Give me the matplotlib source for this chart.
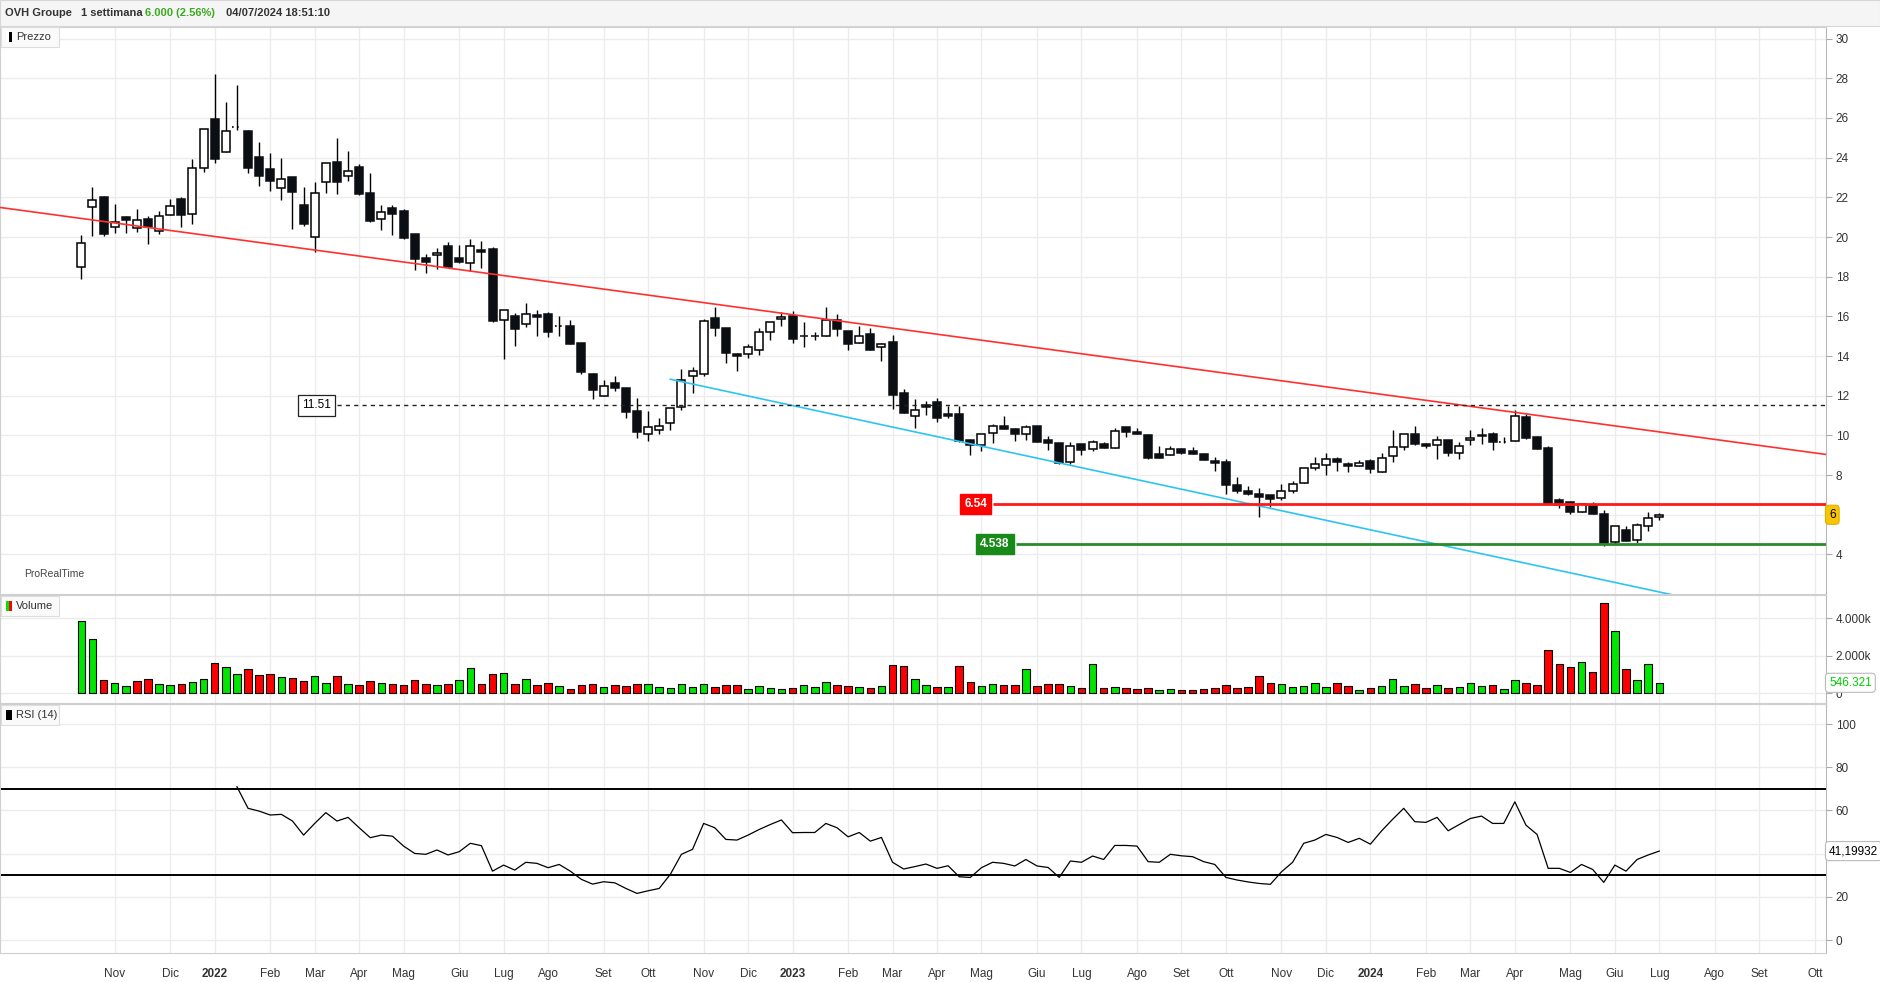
import numpy as np
import pandas as pd
import matplotlib
matplotlib.use('Agg')
import matplotlib.pyplot as plt
from matplotlib.patches import Rectangle
from matplotlib import transforms

plt.rcParams['font.family'] = ['Liberation Sans', 'DejaVu Sans']

# --- dati settimanali OVH Groupe (prima settimana: 11/10/2021) ---
start_week = pd.Timestamp('2021-10-11')

opens = [18.47, 21.51, 22.02, 20.49, 21.01, 20.44, 20.89, 20.32, 21.09, 21.90,
         21.14, 23.46, 25.93, 24.27, 25.53, 25.34, 24.02, 23.43, 22.45, 23.02,
         21.61, 19.98, 22.76, 23.76, 23.06, 23.51, 22.20, 20.89, 21.44, 21.30,
         20.13, 18.92, 19.08, 19.55, 18.92, 18.71, 19.35, 19.38, 15.80, 16.00,
         15.63, 16.05, 16.10, 15.50, 15.50, 14.64, 13.08, 11.97, 12.62, 12.37,
         11.21, 10.05, 10.26, 10.61, 11.42, 12.98, 13.11, 15.90, 15.40, 14.09,
         14.09, 14.29, 15.20, 15.85, 16.04, 15.00, 15.01, 14.99, 15.82, 15.25,
         14.64, 15.11, 14.44, 14.69, 12.12, 11.00, 11.53, 11.67, 11.08, 11.06,
         9.75, 9.50, 10.10, 10.47, 10.32, 10.05, 10.47, 9.77, 9.61, 8.64,
         9.57, 9.31, 9.55, 9.35, 10.41, 10.17, 10.02, 9.05, 9.00, 9.30,
         9.21, 9.05, 8.69, 8.66, 7.48, 7.19, 7.03, 6.98, 6.83, 7.18,
         7.58, 8.34, 8.51, 8.79, 8.54, 8.44, 8.69, 8.14, 8.94, 9.40,
         10.05, 9.55, 9.50, 9.75, 9.10, 9.75, 10.00, 10.05, 9.66, 9.70,
         10.91, 9.90, 9.35, 6.73, 6.63, 6.12, 6.48, 6.02, 4.64, 5.25,
         4.74, 5.45, 5.87]
highs = [20.10, 22.52, 22.07, 21.66, 21.06, 21.41, 21.06, 21.31, 21.90, 22.02,
         23.93, 25.43, 28.22, 26.80, 27.66, 25.39, 24.79, 24.23, 23.98, 23.02,
         22.52, 22.77, 23.71, 24.99, 24.33, 23.68, 23.21, 21.61, 21.61, 21.40,
         20.13, 19.14, 19.43, 19.75, 19.60, 19.90, 19.80, 19.48, 16.30, 16.15,
         16.67, 16.32, 16.20, 16.02, 15.82, 14.64, 13.16, 12.78, 12.99, 12.37,
         11.87, 11.21, 10.86, 11.36, 13.33, 13.45, 15.85, 16.49, 15.40, 14.14,
         14.59, 15.41, 15.73, 16.20, 16.27, 15.70, 15.20, 16.49, 16.12, 15.25,
         15.51, 15.41, 14.67, 15.06, 12.32, 11.84, 11.73, 11.87, 11.47, 11.47,
         9.75, 10.05, 10.58, 10.98, 10.36, 10.54, 10.47, 9.97, 9.61, 9.65,
         9.57, 9.77, 9.68, 10.36, 10.41, 10.36, 10.07, 9.45, 9.45, 9.35,
         9.40, 9.10, 8.93, 8.79, 7.90, 7.45, 7.33, 6.98, 7.53, 7.70,
         8.34, 8.93, 9.13, 8.93, 8.68, 8.76, 8.81, 9.10, 10.27, 10.05,
         10.47, 9.60, 9.95, 9.75, 9.65, 10.26, 10.36, 10.19, 9.90, 11.28,
         11.06, 9.95, 9.45, 6.83, 6.63, 6.53, 6.63, 6.22, 5.45, 5.45,
         5.60, 6.12, 6.11]
lows = [17.87, 20.07, 20.07, 20.22, 20.22, 20.27, 19.63, 20.17, 21.09, 20.52,
        20.67, 23.29, 23.75, 24.27, 25.38, 23.24, 22.59, 22.33, 21.88, 20.42,
        20.57, 19.26, 22.23, 22.18, 22.84, 22.13, 20.77, 20.37, 20.12, 19.90,
        18.34, 18.20, 18.40, 18.50, 18.71, 18.29, 18.45, 15.73, 13.87, 14.52,
        15.46, 15.03, 14.98, 15.03, 14.62, 13.08, 11.85, 11.97, 12.25, 10.89,
        9.89, 9.74, 10.05, 10.29, 11.30, 12.15, 13.01, 15.03, 13.67, 13.26,
        13.92, 14.04, 14.81, 15.53, 14.64, 14.47, 14.81, 14.99, 15.03, 14.31,
        14.64, 14.32, 13.77, 11.33, 11.15, 10.39, 11.05, 10.69, 10.89, 9.68,
        9.00, 9.23, 9.63, 10.31, 9.73, 9.77, 9.68, 9.28, 8.56, 8.56,
        9.03, 9.23, 9.38, 9.35, 9.90, 10.09, 8.82, 8.88, 9.00, 9.08,
        9.05, 8.74, 8.22, 7.05, 7.08, 6.99, 5.87, 6.41, 6.74, 7.08,
        7.58, 8.26, 8.02, 8.19, 8.14, 8.44, 8.09, 8.14, 8.64, 9.25,
        9.50, 9.35, 8.83, 8.94, 8.79, 9.50, 9.55, 9.25, 9.60, 9.70,
        9.80, 9.30, 6.53, 6.36, 6.02, 6.12, 6.02, 4.44, 4.54, 4.69,
        4.59, 5.20, 5.72]
closes = [19.68, 21.85, 20.13, 20.77, 20.88, 20.86, 20.49, 21.04, 21.55, 21.13,
          23.46, 25.43, 23.95, 25.33, 25.53, 23.49, 23.09, 22.84, 22.91, 22.25,
          20.67, 22.20, 23.71, 22.79, 23.31, 22.18, 20.82, 21.24, 21.14, 19.96,
          18.91, 18.76, 19.19, 18.50, 18.76, 19.53, 19.26, 15.78, 16.30, 15.38,
          16.14, 15.99, 15.23, 15.50, 14.62, 13.21, 12.31, 12.47, 12.37, 11.20,
          10.19, 10.41, 10.47, 11.36, 12.78, 13.23, 15.75, 15.40, 14.14, 14.02,
          14.47, 15.20, 15.73, 15.95, 14.88, 14.99, 15.00, 15.82, 15.35, 14.59,
          15.03, 14.32, 14.59, 12.05, 11.15, 11.26, 11.45, 10.86, 11.00, 9.74,
          9.50, 10.05, 10.46, 10.31, 10.05, 10.44, 9.68, 9.60, 8.61, 9.45,
          9.28, 9.65, 9.38, 10.20, 10.18, 10.09, 8.85, 8.88, 9.30, 9.13,
          9.05, 8.74, 8.63, 7.50, 7.18, 7.03, 6.91, 6.79, 7.18, 7.53,
          8.34, 8.54, 8.79, 8.64, 8.44, 8.59, 8.29, 8.84, 9.40, 10.05,
          9.55, 9.45, 9.75, 9.10, 9.45, 9.85, 9.95, 9.65, 9.66, 10.96,
          9.85, 9.30, 6.53, 6.50, 6.12, 6.53, 6.02, 4.54, 5.45, 4.69,
          5.50, 5.85, 6.00]
# volumi in migliaia
volumes = [3878, 2913, 715, 536, 375, 661, 768, 482, 429, 482,
           590, 768, 1626, 1412, 1036, 1304, 983, 1036, 876, 822,
           661, 929, 554, 929, 500, 447, 661, 536, 482, 429,
           715, 482, 429, 482, 715, 1358, 482, 1019, 1090, 482,
           768, 429, 536, 375, 214, 447, 482, 322, 447, 375,
           482, 482, 322, 268, 482, 322, 482, 322, 447, 447,
           214, 375, 268, 214, 268, 429, 322, 608, 429, 375,
           322, 268, 375, 1501, 1447, 751, 429, 322, 322, 1447,
           590, 375, 482, 429, 429, 1287, 375, 482, 482, 375,
           268, 1555, 268, 322, 268, 214, 268, 161, 214, 161,
           161, 214, 268, 429, 268, 322, 911, 536, 482, 322,
           375, 536, 322, 536, 375, 161, 268, 375, 751, 375,
           482, 268, 429, 268, 322, 536, 375, 429, 214, 697,
           536, 429, 2305, 1555, 1394, 1680, 1126, 4825, 3324, 1287,
           697, 1555, 546.321]
rsi_first = 14
rsi_values = [71.0, 61.0, 59.7, 57.9, 58.2, 55.1, 48.6, 54.0, 59.0, 55.1,
              56.8, 52.0, 47.4, 48.6, 48.1, 43.5, 40.1, 39.7, 41.7, 39.4,
              40.9, 44.8, 43.7, 31.9, 34.7, 32.4, 36.0, 35.5, 33.5, 35.0,
              31.9, 28.1, 25.9, 27.0, 26.5, 23.9, 21.6, 22.8, 23.9, 30.4,
              39.7, 42.0, 54.0, 52.0, 46.6, 46.3, 48.6, 51.2, 53.5, 55.6,
              49.7, 49.8, 49.8, 54.0, 52.0, 47.8, 49.8, 45.8, 47.5, 36.0,
              32.9, 34.0, 35.2, 33.2, 34.4, 29.3, 29.0, 33.5, 36.0, 35.5,
              34.3, 37.3, 34.3, 33.6, 29.0, 36.6, 36.0, 38.9, 37.3, 43.8,
              43.8, 43.5, 36.3, 36.0, 39.7, 39.0, 38.6, 36.3, 35.0, 29.0,
              27.8, 26.9, 26.2, 25.8, 31.6, 36.0, 44.8, 46.3, 48.9, 47.5,
              45.2, 47.1, 44.4, 50.5, 55.9, 61.0, 54.8, 54.5, 56.8, 50.6,
              53.5, 56.3, 57.4, 54.0, 54.0, 64.0, 53.2, 48.9, 33.2, 33.2,
              31.3, 35.0, 32.7, 26.7, 34.7, 31.9, 37.3, 39.4, 41.19932]

# linee disegnate (settimana, prezzo)
red_trend = [(-7.32, 21.49), (157.0, 9.04)]
cyan_trend = [(53.0, 12.83), (157.0, 0.30)]
level_dashed = 11.51
level_red = 6.54
level_green = 4.538
level_dashed_from = 23.0
level_red_from = 82.0
level_green_from = 84.1

mesi = ['Gen', 'Feb', 'Mar', 'Apr', 'Mag', 'Giu', 'Lug', 'Ago', 'Set', 'Ott', 'Nov', 'Dic']

W, H = 1880, 982
fig = plt.figure(figsize=(W / 100, H / 100), dpi=100)
fig.patch.set_facecolor('white')


def fy(y):
    return 1 - y / H


x_right = 1826 / W
ax_p = fig.add_axes([0.0, fy(594), x_right, (594 - 27) / H])
ax_v = fig.add_axes([0.0, fy(703), x_right, (703 - 595) / H])
ax_r = fig.add_axes([0.0, fy(953), x_right, (953 - 704) / H])

xlim = (-7.32, 157.0)

# mesi: primo lunedi di ogni mese
month_starts = pd.date_range('2021-11-01', '2024-10-01', freq='MS')
tick_pos, tick_lab = [], []
for d in month_starts:
    monday = d + pd.Timedelta(days=(7 - d.weekday()) % 7)
    tick_pos.append((monday - start_week).days / 7)
    tick_lab.append(str(d.year) if d.month == 1 else mesi[d.month - 1])

for ax in (ax_p, ax_v, ax_r):
    ax.set_xlim(*xlim)
    ax.set_xticks(tick_pos)
    ax.grid(True, color='#ececec', lw=1, zorder=0)
    ax.set_axisbelow(True)
    ax.yaxis.tick_right()
    ax.tick_params(axis='y', labelsize=8.5, colors='#333333', length=4, width=0.8, pad=3)
    ax.tick_params(axis='y', color='#aaaaaa')
    ax.tick_params(axis='x', length=0)
    for s in ax.spines.values():
        s.set_color('#cfcfcf')
    ax.spines['right'].set_color('#b8b8b8')

ax_p.set_xticklabels([])
ax_v.set_xticklabels([])
ax_r.set_xticklabels(tick_lab, fontsize=8.5, color='#333333')
for t in ax_r.get_xticklabels():
    if t.get_text().isdigit():
        t.set_fontweight('bold')
ax_r.tick_params(axis='x', pad=11)

# --- prezzo ---
o = np.array(opens)
h = np.array(highs)
l = np.array(lows)
c = np.array(closes)
x = np.arange(len(o))
up = c > o
down = c < o
doji = c == o

ax_p.vlines(x, l, h, color='black', lw=1.0, zorder=2)
ax_p.bar(x[up], (c - o)[up], bottom=o[up], width=0.72, facecolor='white',
         edgecolor='black', lw=1.1, zorder=3)
ax_p.bar(x[down], (o - c)[down], bottom=c[down], width=0.72, facecolor='#0b0f13',
         edgecolor='#0b0f13', lw=1.1, zorder=3)
ax_p.hlines(c[doji], x[doji] - 0.4, x[doji] + 0.4, color='black', lw=1.2,
            linestyles=(0, (1, 2)), zorder=3)

ax_p.set_ylim(2.006, 30.585)
price_ticks = np.arange(4, 31, 2)
ax_p.set_yticks(price_ticks)
# l'etichetta del 6 e coperta dal riquadro dell'ultimo prezzo
ax_p.set_yticklabels(['' if t == round(closes[-1]) else str(t) for t in price_ticks])

ax_p.axline(red_trend[0], red_trend[1], color='#ff3030', lw=1.2, zorder=4)
ax_p.plot([p[0] for p in cyan_trend], [p[1] for p in cyan_trend], color='#2ec4f2', lw=1.2, zorder=4)
ax_p.hlines(level_dashed, level_dashed_from, xlim[1], color='#222222', lw=1.0,
            linestyles=(0, (3, 3)), zorder=4)
ax_p.hlines(level_red, level_red_from, xlim[1], color='#ff1a1a', lw=2.0, zorder=4)
ax_p.hlines(level_green, level_green_from, xlim[1], color='#2a8a2a', lw=2.0, zorder=4)

ax_p.text(level_dashed_from - 1.8, level_dashed, f'{level_dashed:.2f}', ha='center', va='center',
          fontsize=8.5, color='black', zorder=6,
          bbox=dict(boxstyle='square,pad=0.35', fc='white', ec='#222222', lw=0.9))
ax_p.text(level_red_from - 1.5, level_red, f'{level_red:.2f}', ha='center', va='center',
          fontsize=8.5, color='white', fontweight='bold', zorder=6,
          bbox=dict(boxstyle='square,pad=0.35', fc='#ff0000', ec='#ff0000'))
ax_p.text(level_green_from - 1.9, level_green, f'{level_green:.3f}', ha='center', va='center',
          fontsize=8.5, color='white', fontweight='bold', zorder=6,
          bbox=dict(boxstyle='square,pad=0.35', fc='#178a17', ec='#178a17'))

tr_p = transforms.blended_transform_factory(ax_p.transAxes, ax_p.transData)
ax_p.text(1.0 + 3 / 1826, closes[-1], f'{closes[-1]:g}', transform=tr_p, ha='left', va='center',
          fontsize=8.5, color='black', zorder=10, clip_on=False,
          bbox=dict(boxstyle='round,pad=0.3', fc='#f7c600', ec='#e0b000', lw=0.8))
ax_p.text(24 / 1826, 0.03, 'ProRealTime', transform=ax_p.transAxes, fontsize=7.5, color='#444444')

# --- volume ---
v = np.array(volumes)
prev_c = np.concatenate([[c[0] - 1], c[:-1]])
vcol = np.where(c >= prev_c, '#00e600', '#ff0000')
ax_v.bar(x, v, width=0.68, color=vcol, edgecolor='black', lw=0.8, zorder=3)
ax_v.set_ylim(-536, 5253)
ax_v.set_yticks([0, 2000, 4000])
ax_v.set_yticklabels(['0', '2.000k', '4.000k'])
tr_v = transforms.blended_transform_factory(ax_v.transAxes, ax_v.transData)
ax_v.text(1.0 + 3 / 1826, volumes[-1], f'{volumes[-1]:.3f}', transform=tr_v, ha='left', va='center',
          fontsize=8.5, color='#00d000', zorder=10, clip_on=False,
          bbox=dict(boxstyle='round,pad=0.3', fc='white', ec='#bbbbbb', lw=0.8))

# --- RSI ---
rx = np.arange(rsi_first, rsi_first + len(rsi_values))
ax_r.plot(rx, rsi_values, color='black', lw=0.9, zorder=3)
ax_r.axhline(70, color='black', lw=1.4, zorder=2)
ax_r.axhline(30, color='black', lw=1.4, zorder=2)
ax_r.set_ylim(-6.0, 109.3)
ax_r.set_yticks([0, 20, 40, 60, 80, 100])
# il 40 e coperto dal riquadro del valore corrente
ax_r.set_yticklabels(['0', '20', '', '60', '80', '100'])
tr_r = transforms.blended_transform_factory(ax_r.transAxes, ax_r.transData)
ax_r.text(1.0 + 3 / 1826, rsi_values[-1], f'{rsi_values[-1]:.5f}'.replace('.', ','), transform=tr_r,
          ha='left', va='center', fontsize=8.5, color='black', zorder=10, clip_on=False,
          bbox=dict(boxstyle='round,pad=0.3', fc='white', ec='#bbbbbb', lw=0.8))

# --- intestazione ---
fig.patches.append(Rectangle((0, fy(26)), 1, 26 / H, transform=fig.transFigure,
                             fc='#f5f5f5', ec='#d6d6d6', lw=0.8, zorder=0))
hy = fy(13)
fig.text(5 / W, hy, 'OVH Groupe', fontsize=8, fontweight='bold', color='#333333', va='center')
fig.text(81 / W, hy, '1 settimana', fontsize=8, fontweight='bold', color='#333333', va='center')
fig.text(145 / W, hy, '6.000 (2.56%)', fontsize=8, fontweight='bold', color='#3aaa1e', va='center')
fig.text(226 / W, hy, '04/07/2024 18:51:10', fontsize=8, fontweight='bold', color='#333333', va='center')

# titoli dei pannelli
def panel_title(y_top, label, colors):
    fig.patches.append(Rectangle((1 / W, fy(y_top + 20)), 58 / W, 20 / H, transform=fig.transFigure,
                                 fc='#fafafa', ec='#dddddd', lw=0.8, zorder=5))
    n = len(colors)
    for i, col in enumerate(colors):
        fig.patches.append(Rectangle(((6 + i * 6 / n) / W, fy(y_top + 15)), (6 / n) / W, 10 / H,
                                     transform=fig.transFigure, fc=col, ec='none', zorder=6))
    fig.text(16 / W, fy(y_top + 10), label, fontsize=8, color='#333333', va='center', zorder=7)


panel_title(27, 'Prezzo', ['white', 'black'])
panel_title(596, 'Volume', ['#00e600', '#ff0000'])
panel_title(705, 'RSI (14)', ['black'])

fig.savefig('out.png', dpi=100)
